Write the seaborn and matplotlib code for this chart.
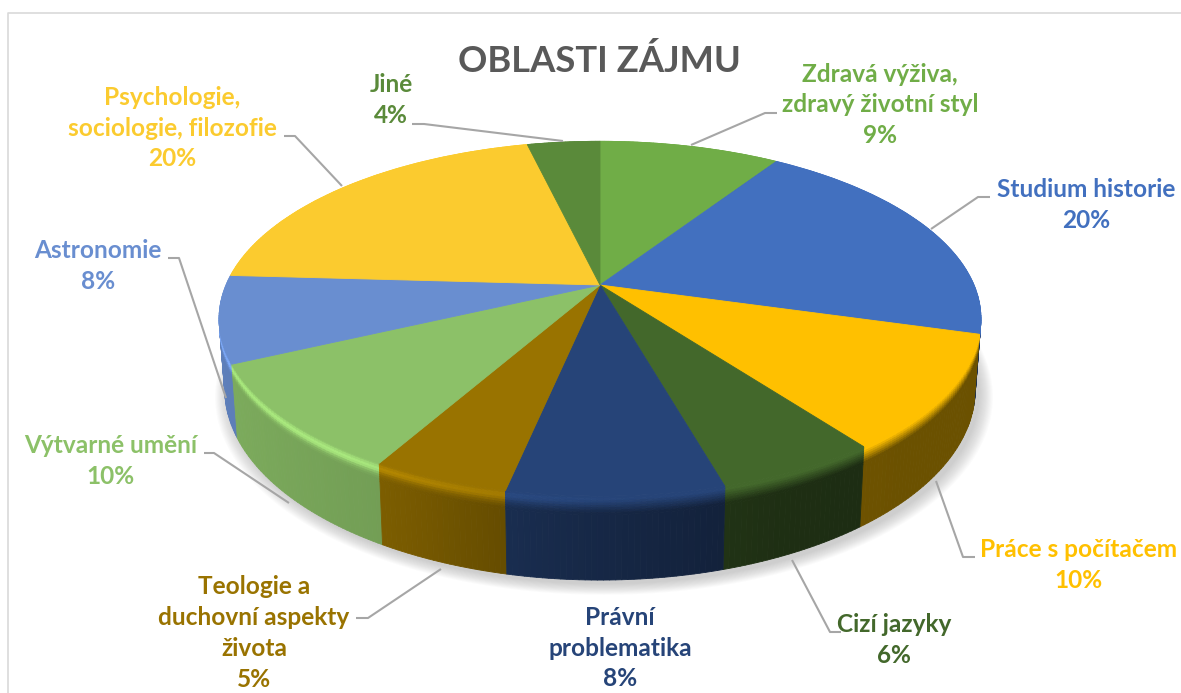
import numpy as np
import matplotlib
matplotlib.use('Agg')
import matplotlib.pyplot as plt
import matplotlib.transforms as mtransforms
from matplotlib.collections import PolyCollection
from matplotlib.colors import to_rgb
import seaborn as sns

# chart data
title = 'OBLASTI ZÁJMU'
categories = ['Zdravá výživa,\nzdravý životní styl', 'Studium historie', 'Práce s počítačem',
              'Cizí jazyky', 'Právní\nproblematika', 'Teologie a\nduchovní aspekty\nživota',
              'Výtvarné umění', 'Astronomie', 'Psychologie,\nsociologie, filozofie', 'Jiné']
values = [9.2, 20.2, 10.4, 5.8, 7.7, 4.9, 9.8, 7.9, 20.4, 3.7]
colors = ['#70ad47', '#4270bf', '#ffc000', '#43682b', '#264478',
          '#997300', '#8cc168', '#698ed0', '#fbcb2f', '#5a8a3a']

# label layout in pixels: centre of the text block and the leader line
label_xy = [(880, 105), (1086, 205), (1079, 565), (894, 640), (620, 648),
            (254, 633), (111, 461), (98, 266), (172, 128), (391, 100)]
leaders = [[(691, 145), (765, 113), (777, 113)], [(931, 229), (978, 197), (990, 197)],
           [(936, 481), (963, 557), (975, 557)], [(792, 560), (830, 632), (841, 632)], None,
           [(441, 569), (368, 618), (356, 618)], [(289, 503), (214, 453), (204, 453)],
           [(226, 398), (179, 258), (168, 258)], [(342, 186), (295, 136), (284, 136)],
           [(563, 141), (424, 124), (412, 124)]]

# the tilted pie: centre, radii, perspective and wall height, in pixels
CX, CY, H, V, K, Z, BEVEL = 600, 285, 374, 171, 0.19, 68, 15


def project(x, y, z=0.0):
    d = 1 + K * y
    px = CX + H * x / d * (1 - 0.015 * z / Z)
    py = CY - V * y / d + z / d
    return px, py


class Tilt(mtransforms.Transform):
    input_dims = 2
    output_dims = 2

    def transform_non_affine(self, values):
        px, py = project(values[:, 0], values[:, 1])
        return np.column_stack([px, py])


def wall_shade(x):
    return np.interp(x, [-1, -0.5, -0.2, 0, 0.4, 0.7, 1], [0.9, 0.82, 0.66, 0.58, 0.45, 0.42, 0.42])


sns.set_theme(style='white')
plt.rcParams['font.family'] = ['Lato', 'DejaVu Sans']

fig = plt.figure(figsize=(11.81, 6.93), dpi=100)
ax = fig.add_axes([0, 0, 1, 1])

wedges, _ = ax.pie(values, colors=sns.color_palette(colors), startangle=90, counterclock=False,
                   wedgeprops={'linewidth': 0.6})
ax.set_aspect('auto')
ax.set_xlim(0, 1181)
ax.set_ylim(693, 0)
ax.axis('off')

# frame of the chart, only top and left are visible
ax.plot([1181, 8, 8], [13, 13, 693], color='#d9d9d9', lw=1.2, zorder=1)

# soft shadow under the pie
phi = np.radians(np.arange(0, 361, 2))
for i in range(14):
    px, py = project(np.cos(phi), np.sin(phi), Z)
    scale = 1 + 0.0028 * i
    ax.fill(CX + 4 + (px - CX) * scale, CY + 4 + (py - CY) * scale, color='#777777', alpha=0.028, lw=0, zorder=2)

# side wall with the rounded edge, slice by slice from back to front
polys, fills = [], []
for w, c in zip(wedges, colors):
    top = np.array(to_rgb(c))
    a1, a2 = w.theta1, w.theta2
    steps = max(int((a2 - a1) / 0.75), 2)
    edges = np.radians(np.linspace(a1, a2, steps + 1))
    for p1, p2 in zip(edges[:-1], edges[1:]):
        xm = np.cos((p1 + p2) / 2)
        side = top * wall_shade(xm)
        light = np.clip(-xm * 1.5 + 0.15, 0, 1)
        bands = list(np.linspace(0, BEVEL, 9)) + [Z]
        for z1, z2 in zip(bands[:-1], bands[1:]):
            t = min(z1 / BEVEL, 1)
            mix = np.clip((t - 0.15) / 0.7, 0, 1)
            col = top * (1 - mix) + side * mix
            glow = 0.25 * light * np.exp(-((t - 0.3) / 0.22) ** 2)
            col = np.clip(col * (1 + glow), 0, 1)
            x1, y1 = project(np.cos(p1), np.sin(p1), z1)
            x2, y2 = project(np.cos(p2), np.sin(p2), z1)
            x3, y3 = project(np.cos(p2), np.sin(p2), z2)
            x4, y4 = project(np.cos(p1), np.sin(p1), z2)
            polys.append(((x1, y1), (x2, y2), (x3, y3), (x4, y4)))
            fills.append((np.sin((p1 + p2) / 2), col))

order = np.argsort([-f[0] for f in fills], kind='stable')
polys = [polys[i] for i in order]
cols = [fills[i][1] for i in order]
ax.add_collection(PolyCollection(polys, facecolors=cols, edgecolors=cols, linewidths=0.6, zorder=3))

# top face of the pie
tilt = Tilt() + ax.transData
for w, c in zip(wedges, colors):
    w.set_edgecolor(c)
    w.set_transform(tilt)
    w.set_zorder(4)

# leader lines and labels
for pts in leaders:
    if pts is not None:
        ax.plot(*zip(*pts), color='#a6a6a6', lw=1.5, zorder=5, solid_capstyle='butt')

for name, val, c, (tx, ty) in zip(categories, values, colors, label_xy):
    ax.text(tx, ty, f'{name}\n{round(val)}%', color=c, fontsize=17.6, fontweight='bold',
            ha='center', va='center', linespacing=1.42, zorder=6)

ax.text(599, 61, title, color='#595959', fontsize=26.2, fontweight='bold', ha='center', va='center', zorder=6)

plt.savefig('out.png', dpi=100)
